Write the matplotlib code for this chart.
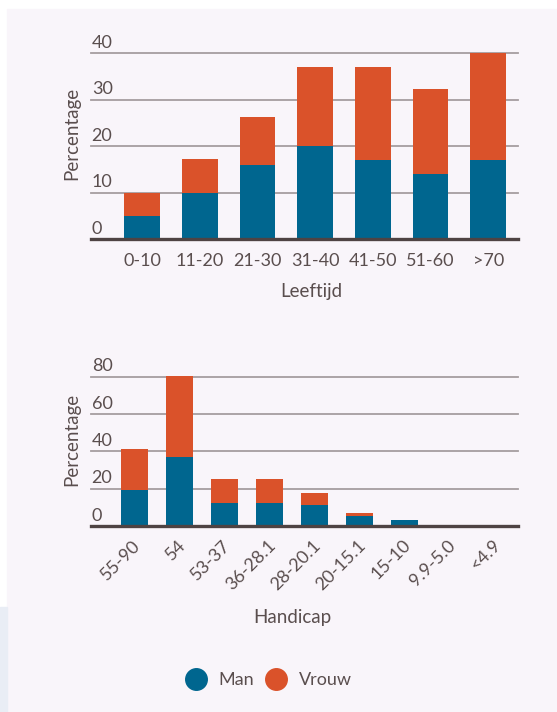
import matplotlib
matplotlib.use("Agg")
import matplotlib.pyplot as plt
import matplotlib.transforms as mtransforms
from matplotlib.patches import Rectangle
from matplotlib.lines import Line2D

# data
age_groups = ['0-10', '11-20', '21-30', '31-40', '41-50', '51-60', '>70']
age_man = [5, 10, 16, 20, 17, 14, 17]
age_vrouw = [5, 7.2, 10.2, 17, 20, 18.3, 23]
age_ticks = [0, 10, 20, 30, 40]

hcp_groups = ['55-90', '54', '53-37', '36-28.1', '28-20.1', '20-15.1', '15-10', '9.9-5.0', '<4.9']
hcp_man = [19.3, 37, 12.3, 12.3, 11.2, 5.5, 3, 0.8, 0]
hcp_vrouw = [22, 43.4, 12.9, 12.9, 6.5, 1.5, 0, 0, 0]
hcp_ticks = [0, 20, 40, 60, 80]

BLUE = '#00668f'
ORANGE = '#da522a'
TEXT = '#5a4e4e'
GRID = '#a59da0'
SPINE = '#4e4343'
BG = '#f9f5fa'

plt.rcParams['font.family'] = ['Lato', 'DejaVu Sans']
plt.rcParams['text.color'] = TEXT

W, H = 557, 712
fig = plt.figure(figsize=(W / 100, H / 100), dpi=100, facecolor='white')

# page background panels
fig.patches.append(Rectangle((7 / W, 0), 1, 1 - 9 / H, transform=fig.transFigure,
                             color=BG, zorder=-10))
fig.patches.append(Rectangle((0, 0), 7 / W, (H - 607) / H, transform=fig.transFigure,
                             color='#e9edf5', zorder=-10))


def px(l, t, r, b):
    return [l / W, 1 - b / H, (r - l) / W, (b - t) / H]


def draw(ax, cats, man, vrouw, ticks, width, xlim, xlabel, rotate):
    x = range(len(cats))
    ax.set_facecolor('none')
    ax.bar(x, man, width, color=BLUE, zorder=3, clip_on=False)
    ax.bar(x, vrouw, width, bottom=man, color=ORANGE, zorder=3, clip_on=False)
    ax.set_xlim(*xlim)
    ax.set_ylim(0, ticks[-1])
    ax.set_yticks(ticks)
    ax.tick_params(axis='y', length=0, labelleft=False)
    ax.yaxis.grid(True, color=GRID, lw=1.3)
    for gl in ax.get_ygridlines():
        gl.set_clip_on(False)
    ax.set_axisbelow(True)
    for s in ['top', 'right', 'left']:
        ax.spines[s].set_visible(False)
    ax.spines['bottom'].set_color(SPINE)
    ax.spines['bottom'].set_linewidth(2.4)
    ax.spines['bottom'].set_zorder(4)
    trans = mtransforms.blended_transform_factory(ax.transAxes, ax.transData)
    for t in ticks:
        ax.annotate(str(t), xy=(0, t), xycoords=trans, xytext=(0.5, 3.8),
                    textcoords='offset points', ha='left', va='baseline',
                    fontsize=13, color=TEXT)
    ax.set_xticks(list(x))
    ax.tick_params(axis='x', length=0, colors=TEXT, labelsize=13)
    if rotate:
        ax.set_xticklabels(cats, rotation=45, ha='right', va='center',
                           rotation_mode='anchor')
        ax.tick_params(axis='x', pad=12)
        off = mtransforms.ScaledTranslation(4 / 100, 0, fig.dpi_scale_trans)
        for lab in ax.get_xticklabels():
            lab.set_transform(lab.get_transform() + off)
    else:
        ax.set_xticklabels(cats)
        ax.tick_params(axis='x', pad=10)
    ax.set_xlabel(xlabel, fontsize=13.5, color=TEXT)
    ax.set_ylabel('Percentage', fontsize=13.5, color=TEXT)


ax1 = fig.add_axes(px(91, 53, 517.7, 239))
draw(ax1, age_groups, age_man, age_vrouw, age_ticks, 0.62, (-0.884, 6.51),
     'Leeftijd', False)
ax1.xaxis.set_label_coords(0.516, -0.235)
ax1.yaxis.set_label_coords(-0.026, 0.567)

ax2 = fig.add_axes(px(91, 376.7, 517.7, 526))
draw(ax2, hcp_groups, hcp_man, hcp_vrouw, hcp_ticks, 0.59, (-0.962, 8.52),
     'Handicap', True)
ax2.xaxis.set_label_coords(0.471, -0.555)
ax2.yaxis.set_label_coords(-0.026, 0.58)

handles = [Line2D([], [], marker='o', ls='none', ms=15.5, color=BLUE),
           Line2D([], [], marker='o', ls='none', ms=15.5, color=ORANGE)]
fig.legend(handles, ['Man', 'Vrouw'], loc='center', bbox_to_anchor=(0.482, 1 - 680 / H),
           ncol=2, frameon=False, fontsize=13, handlelength=1.17, handletextpad=0.7,
           columnspacing=0.6, labelcolor=TEXT)

fig.savefig('out.png', dpi=100, facecolor=fig.get_facecolor())
